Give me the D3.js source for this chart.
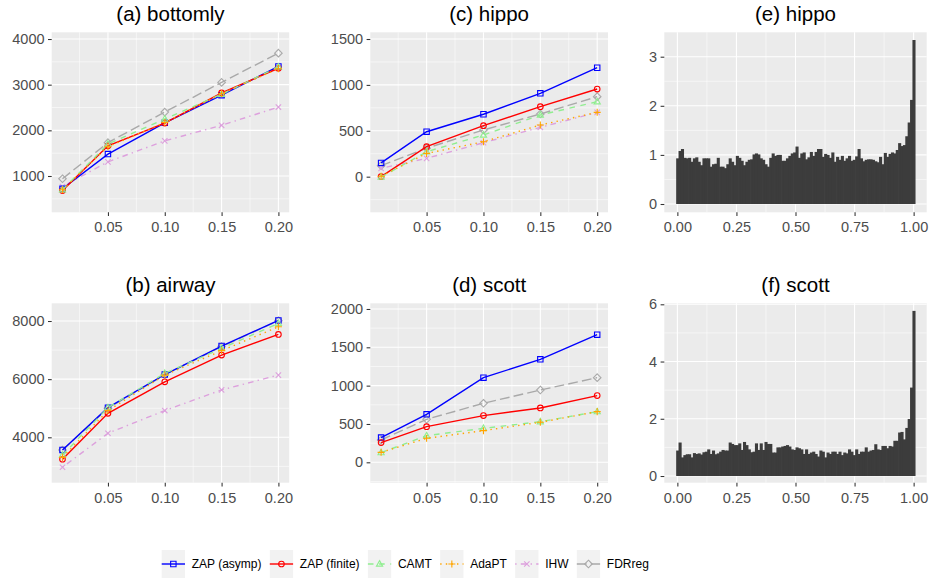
<!DOCTYPE html>
<html>
<head>
<meta charset="utf-8">
<script src="https://cdn.jsdelivr.net/npm/d3@7"></script>
<style>
  body { margin: 0; background: #ffffff; }
  svg { display: block; }
  text { font-family: "Liberation Sans", Arial, Helvetica, sans-serif; }
</style>
</head>
<body>
<svg id="fig" width="930" height="580"></svg>
<script>
// ---- data -------------------------------------------------------------
const alphaLevels = [0.01, 0.05, 0.10, 0.15, 0.20];
const methodNames = ["ZAP (asymp)", "ZAP (finite)", "CAMT", "AdaPT", "IHW", "FDRreg"];

// number of rejections; rows follow methodNames, columns follow alphaLevels
const bottomlyRejections = [
  [720, 1480, 2165, 2770, 3400],
  [680, 1660, 2160, 2820, 3360],
  [700, 1700, 2250, 2790, 3390],
  [700, 1640, 2170, 2800, 3350],
  [770, 1310, 1770, 2110, 2510],
  [940, 1730, 2400, 3050, 3690]
];
const airwayRejections = [
  [3565, 5020, 6160, 7140, 8020],
  [3245, 4825, 5910, 6830, 7540],
  [3390, 5020, 6200, 7060, 7920],
  [3310, 4920, 6140, 6980, 7800],
  [2970, 4140, 4920, 5630, 6140],
  [3560, 5000, 6150, 7120, 8010]
];
const hippoRejections = [
  [150, 490, 680, 908, 1187],
  [0, 327, 556, 763, 955],
  [-5, 272, 454, 672, 817],
  [5, 254, 381, 563, 701],
  [91, 200, 370, 538, 700],
  [120, 310, 509, 683, 872]
];
const scottRejections = [
  [322, 626, 1104, 1343, 1665],
  [257, 465, 609, 709, 870],
  [126, 348, 443, 530, 661],
  [130, 313, 413, 522, 661],
  [null, null, null, null, null],
  [291, 561, 770, 943, 1104]
];

const alphaTicks = [0.05, 0.10, 0.15, 0.20];
const bottomlyTicks = [1000, 2000, 3000, 4000];
const airwayTicks = [4000, 6000, 8000];
const hippoTicks = [0, 500, 1000, 1500];
const scottTicks = [0, 500, 1000, 1500, 2000];

// histogram densities, 100 equal bins over [0, 1]
const hippoDensity = [
  0.93, 1.08, 1.12, 0.94, 0.93, 0.94, 0.86, 0.93, 0.95, 0.86,
  0.79, 0.93, 0.93, 0.93, 0.76, 0.81, 0.82, 0.94, 0.76, 0.76,
  0.73, 0.81, 0.93, 0.86, 0.79, 0.98, 0.94, 0.88, 0.79, 0.86,
  0.90, 0.91, 1.01, 1.03, 1.01, 0.93, 0.90, 0.81, 0.76, 0.94,
  1.03, 0.98, 1.00, 1.00, 0.88, 0.88, 0.93, 0.98, 1.03, 1.05,
  1.17, 0.94, 1.03, 1.05, 0.91, 0.95, 1.06, 0.98, 1.06, 1.12,
  1.12, 0.96, 1.02, 1.00, 0.94, 1.05, 0.86, 0.96, 0.90, 0.98,
  0.88, 0.93, 0.98, 0.88, 0.90, 0.97, 1.12, 0.93, 0.87, 0.90,
  0.91, 0.91, 0.90, 0.87, 0.85, 0.96, 0.81, 1.04, 0.96, 1.02,
  1.05, 1.03, 1.10, 1.24, 1.18, 1.20, 1.38, 1.66, 2.12, 3.34
];
const scottDensity = [
  0.89, 1.17, 0.65, 0.73, 0.76, 0.76, 0.65, 0.80, 0.77, 0.79,
  0.75, 0.83, 0.85, 0.93, 0.77, 0.89, 0.76, 0.79, 0.85, 0.91,
  0.89, 0.89, 1.17, 1.12, 1.08, 1.08, 1.14, 0.91, 1.19, 1.08,
  0.93, 0.83, 0.85, 1.14, 0.91, 1.14, 0.91, 1.19, 1.12, 1.12,
  0.82, 0.82, 1.00, 1.00, 1.03, 1.05, 1.08, 1.03, 0.93, 0.91,
  1.00, 0.97, 0.93, 0.77, 0.93, 0.77, 0.82, 0.85, 0.77, 0.68,
  0.89, 0.85, 0.65, 0.82, 0.77, 0.85, 0.85, 0.77, 0.85, 0.73,
  0.82, 0.79, 0.93, 0.85, 0.73, 0.93, 0.77, 0.85, 0.85, 1.00,
  0.85, 0.89, 0.91, 1.11, 0.93, 0.91, 1.05, 1.05, 0.97, 1.05,
  1.03, 1.23, 1.23, 1.52, 1.54, 1.28, 1.68, 1.99, 3.09, 5.77
];
const pvalueTicks = [0, 0.25, 0.5, 0.75, 1];
const hippoDensityTicks = [0, 1, 2, 3];
const scottDensityTicks = [0, 2, 4, 6];

// ---- styling ------------------------------------------------------------
const methodStyles = [
  { color: "#0000FF", dash: null, shape: "square" },
  { color: "#FF0000", dash: null, shape: "circle" },
  { color: "#90EE90", dash: "5.6,5.6", shape: "triangle" },
  { color: "#FFA500", dash: "1.4,4.2", shape: "plus" },
  { color: "#DDA0DD", dash: "1.4,4.2,5.6,4.2", shape: "cross" },
  { color: "#A9A9A9", dash: "9.8,4.2", shape: "diamond" }
];
const drawOrder = [5, 4, 0, 1, 2, 3];
const lineWidth = 1.4;

const svg = d3.select("#fig");
const TICK_LABEL = "#4D4D4D", TICK_LINE = "#333333", PANEL_BG = "#EBEBEB";

function markerPath(shape) {
  const r = 2.7;
  switch (shape) {
    case "square":   return `M${-r},${-r}H${r}V${r}H${-r}Z`;
    case "triangle": return `M0,${-r * 1.25}L${r * 1.15},${r * 0.8}L${-r * 1.15},${r * 0.8}Z`;
    case "plus":     return `M${-r * 1.3},0H${r * 1.3}M0,${-r * 1.3}V${r * 1.3}`;
    case "cross":    return `M${-r},${-r}L${r},${r}M${-r},${r}L${r},${-r}`;
    case "diamond":  return `M0,${-r * 1.4}L${r * 1.4},0L0,${r * 1.4}L${-r * 1.4},0Z`;
  }
  return null;
}

function drawMarker(g, shape, color, cx, cy) {
  if (shape === "circle") {
    g.append("circle").attr("cx", cx).attr("cy", cy).attr("r", 2.8)
      .attr("fill", "none").attr("stroke", color).attr("stroke-width", 1.1);
  } else {
    g.append("path").attr("d", markerPath(shape))
      .attr("transform", `translate(${cx},${cy})`)
      .attr("fill", "none").attr("stroke", color).attr("stroke-width", 1.1);
  }
}

function minorBreaks(ticks, domain) {
  const step = ticks[1] - ticks[0];
  const out = [];
  const ext = [ticks[0] - step, ...ticks, ticks[ticks.length - 1] + step];
  for (let i = 0; i < ext.length - 1; i++) {
    const m = (ext[i] + ext[i + 1]) / 2;
    if (m > domain[0] && m < domain[1]) out.push(m);
  }
  return out;
}

// draws background, grid, axes and title for one panel
function drawPanel(opt) {
  const { left, right, top, bottom, xDomain, yDomain, xTicks, yTicks, xFmt, yFmt, title } = opt;
  const x = d3.scaleLinear().domain(xDomain).range([left, right]);
  const y = d3.scaleLinear().domain(yDomain).range([bottom, top]);
  const g = svg.append("g");

  g.append("rect").attr("x", left).attr("y", top)
    .attr("width", right - left).attr("height", bottom - top).attr("fill", PANEL_BG);

  const grid = g.append("g").attr("stroke", "#FFFFFF");
  minorBreaks(xTicks, xDomain).forEach(v => grid.append("line")
    .attr("x1", x(v)).attr("x2", x(v)).attr("y1", top).attr("y2", bottom).attr("stroke-width", 0.55));
  minorBreaks(yTicks, yDomain).forEach(v => grid.append("line")
    .attr("y1", y(v)).attr("y2", y(v)).attr("x1", left).attr("x2", right).attr("stroke-width", 0.55));
  xTicks.forEach(v => grid.append("line")
    .attr("x1", x(v)).attr("x2", x(v)).attr("y1", top).attr("y2", bottom).attr("stroke-width", 1.1));
  yTicks.forEach(v => grid.append("line")
    .attr("y1", y(v)).attr("y2", y(v)).attr("x1", left).attr("x2", right).attr("stroke-width", 1.1));

  const xAxis = d3.axisBottom(x).tickValues(xTicks).tickFormat(xFmt).tickSize(3.7).tickPadding(4);
  const yAxis = d3.axisLeft(y).tickValues(yTicks).tickFormat(yFmt).tickSize(3.7).tickPadding(3.5);
  const gx = g.append("g").attr("transform", `translate(0,${bottom})`).call(xAxis);
  const gy = g.append("g").attr("transform", `translate(${left},0)`).call(yAxis);
  [gx, gy].forEach(a => {
    a.select(".domain").remove();
    a.selectAll(".tick line").attr("stroke", TICK_LINE).attr("stroke-width", 1.07);
    a.selectAll(".tick text").attr("fill", TICK_LABEL).attr("font-size", "14.5px")
      .attr("font-family", '"Liberation Sans", Arial, sans-serif');
  });
  gx.selectAll(".tick text").attr("dy", "0.85em");

  g.append("text").attr("x", (left + right) / 2).attr("y", top - 11.5)
    .attr("text-anchor", "middle").attr("font-size", "20.5px").attr("fill", "#000000")
    .text(title);

  return { g, x, y };
}

function drawLinePanel(opt, rejections) {
  const { g, x, y } = drawPanel(opt);
  drawOrder.forEach(m => {
    const st = methodStyles[m];
    const pts = alphaLevels.map((a, i) => [a, rejections[m][i]]).filter(d => d[1] !== null);
    if (!pts.length) return;
    const line = d3.line().x(d => x(d[0])).y(d => y(d[1]));
    g.append("path").datum(pts).attr("d", line)
      .attr("fill", "none").attr("stroke", st.color).attr("stroke-width", lineWidth)
      .attr("stroke-dasharray", st.dash);
    const mg = g.append("g");
    pts.forEach(d => drawMarker(mg, st.shape, st.color, x(d[0]), y(d[1])));
  });
}

function drawHistPanel(opt, density) {
  const { g, x, y } = drawPanel(opt);
  const n = density.length;
  const w = 1 / (n - 1);
  g.append("g").selectAll("rect").data(density).join("rect")
    .attr("x", (d, i) => x(i * w - w / 2))
    .attr("width", (d, i) => x(i * w + w / 2) - x(i * w - w / 2) + 0.7)
    .attr("y", d => y(d))
    .attr("height", d => y(0) - y(d))
    .attr("fill", "#3C3C3C");
}

// ---- layout -------------------------------------------------------------
const rows = [{ top: 32.3, bottom: 212.3 }, { top: 303.3, bottom: 482.7 }];
const cols = [{ left: 51.7, right: 289.2 }, { left: 370.3, right: 608 }, { left: 664.3, right: 926.7 }];
const alphaDomain = [0.0005, 0.2095];
const fmt2 = d3.format(".2f");
const fmtInt = d3.format("d");

drawLinePanel({ ...cols[0], ...rows[0], xDomain: alphaDomain, yDomain: [205, 4147],
  xTicks: alphaTicks, yTicks: bottomlyTicks, xFmt: fmt2, yFmt: fmtInt, title: "(a) bottomly" }, bottomlyRejections);
drawLinePanel({ ...cols[0], ...rows[1], xDomain: alphaDomain, yDomain: [2439, 8609],
  xTicks: alphaTicks, yTicks: airwayTicks, xFmt: fmt2, yFmt: fmtInt, title: "(b) airway" }, airwayRejections);
drawLinePanel({ ...cols[1], ...rows[0], xDomain: alphaDomain, yDomain: [-388, 1573],
  xTicks: alphaTicks, yTicks: hippoTicks, xFmt: fmt2, yFmt: fmtInt, title: "(c) hippo" }, hippoRejections);
drawLinePanel({ ...cols[1], ...rows[1], xDomain: alphaDomain, yDomain: [-266, 2074],
  xTicks: alphaTicks, yTicks: scottTicks, xFmt: fmt2, yFmt: fmtInt, title: "(d) scott" }, scottRejections);
drawHistPanel({ ...cols[2], ...rows[0], xDomain: [-0.0553, 1.0553], yDomain: [-0.169, 3.497],
  xTicks: pvalueTicks, yTicks: hippoDensityTicks, xFmt: fmt2, yFmt: fmtInt, title: "(e) hippo" }, hippoDensity);
drawHistPanel({ ...cols[2], ...rows[1], xDomain: [-0.0553, 1.0553], yDomain: [-0.234, 6.035],
  xTicks: pvalueTicks, yTicks: scottDensityTicks, xFmt: fmt2, yFmt: fmtInt, title: "(f) scott" }, scottDensity);

// ---- legend -------------------------------------------------------------
const legend = svg.append("g");
const keyW = 23.3, keyH = 28, keyTop = 550, keyMid = 564;
let lx = 161.7;
methodNames.forEach((name, m) => {
  const st = methodStyles[m];
  const item = legend.append("g");
  item.append("rect").attr("x", lx).attr("y", keyTop).attr("width", keyW).attr("height", keyH)
    .attr("fill", "#F2F2F2");
  item.append("line").attr("x1", lx).attr("x2", lx + keyW).attr("y1", keyMid).attr("y2", keyMid)
    .attr("stroke", st.color).attr("stroke-width", lineWidth).attr("stroke-dasharray", st.dash);
  drawMarker(item, st.shape, st.color, lx + keyW / 2, keyMid);
  const t = item.append("text").attr("x", lx + keyW + 6.7).attr("y", keyMid + 4.3)
    .attr("font-size", "12px").attr("fill", "#000000").text(name);
  lx = lx + keyW + 6.7 + t.node().getComputedTextLength() + 8.3;
});
</script>
</body>
</html>
